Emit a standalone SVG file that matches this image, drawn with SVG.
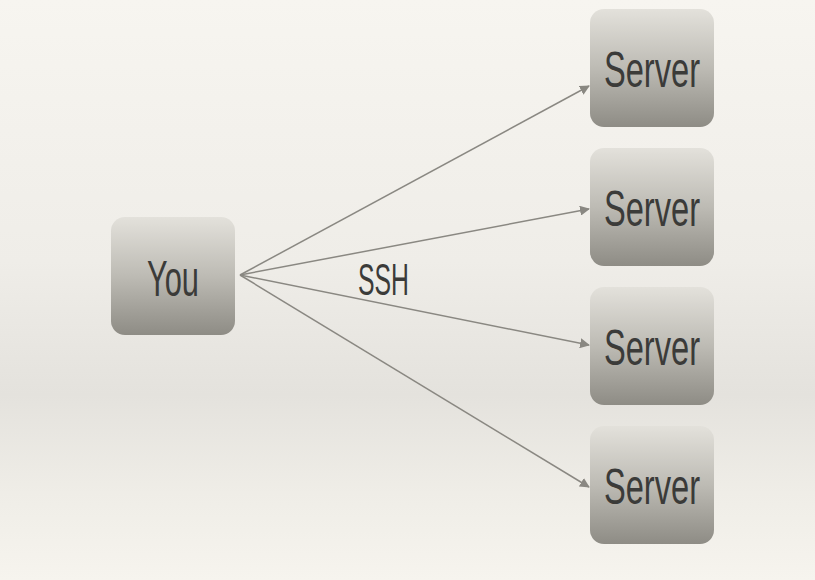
<svg xmlns="http://www.w3.org/2000/svg" width="815" height="580" viewBox="0 0 815 580">
<defs>
<linearGradient id="bg" x1="0" y1="0" x2="0" y2="1">
<stop offset="0" stop-color="#f7f5f0"/>
<stop offset="0.45" stop-color="#efede8"/>
<stop offset="0.68" stop-color="#e4e2dd"/>
<stop offset="0.85" stop-color="#efede7"/>
<stop offset="1" stop-color="#f6f4ee"/>
</linearGradient>
<linearGradient id="box" x1="0" y1="0" x2="0" y2="1">
<stop offset="0" stop-color="#e3e1db"/>
<stop offset="0.5" stop-color="#bdbbb4"/>
<stop offset="1" stop-color="#8e8c85"/>
</linearGradient>
<marker id="ah" viewBox="0 0 10 10" refX="9" refY="5" markerWidth="10" markerHeight="10" markerUnits="userSpaceOnUse" orient="auto">
<path d="M0,0 L10,5 L0,10 z" fill="#8a8882"/>
</marker>
<style>
.node rect{fill:url(#box);}
.lbl{font-family:"Liberation Sans Narrow","Liberation Sans",sans-serif;font-size:50px;fill:#3b3b39;}
.conn line{stroke:#8a8882;stroke-width:1.5;marker-end:url(#ah);}
</style>
</defs>
<rect width="815" height="580" fill="url(#bg)"/>
<g id="connectors" class="conn">
<line x1="240" y1="275" x2="589" y2="86"/>
<line x1="240" y1="275" x2="589" y2="209"/>
<line x1="240" y1="275" x2="589" y2="345"/>
<line x1="240" y1="275" x2="589" y2="487"/>
</g>
<g id="you" class="node">
<rect x="111" y="217" width="124" height="118" rx="14"/>
<text class="lbl" x="147" y="296" textLength="52" lengthAdjust="spacingAndGlyphs">You</text>
</g>
<g id="server1" class="node">
<rect x="590" y="9" width="124" height="118" rx="14"/>
<text class="lbl" x="604" y="87" textLength="96" lengthAdjust="spacingAndGlyphs">Server</text>
</g>
<g id="server2" class="node">
<rect x="590" y="148" width="124" height="118" rx="14"/>
<text class="lbl" x="604" y="226" textLength="96" lengthAdjust="spacingAndGlyphs">Server</text>
</g>
<g id="server3" class="node">
<rect x="590" y="287" width="124" height="118" rx="14"/>
<text class="lbl" x="604" y="365" textLength="96" lengthAdjust="spacingAndGlyphs">Server</text>
</g>
<g id="server4" class="node">
<rect x="590" y="426" width="124" height="118" rx="14"/>
<text class="lbl" x="604" y="504" textLength="96" lengthAdjust="spacingAndGlyphs">Server</text>
</g>
<text id="ssh" class="lbl" x="358" y="295" font-size="45" textLength="51" lengthAdjust="spacingAndGlyphs" style="font-size:45px">SSH</text>
</svg>
